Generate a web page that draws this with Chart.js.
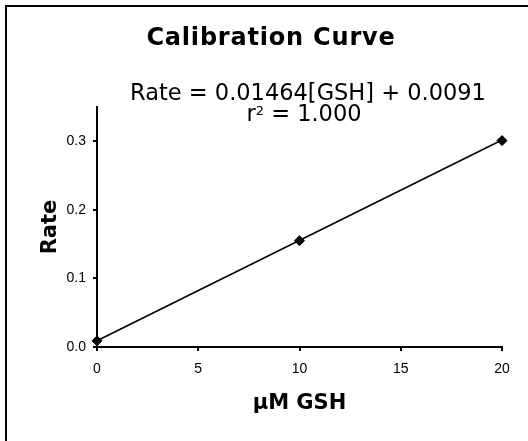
<!DOCTYPE html>
<html>
<head>
<meta charset="utf-8">
<script src="https://cdn.jsdelivr.net/npm/chart.js@4/dist/chart.umd.min.js"></script>
<style>
  html, body { margin: 0; padding: 0; background: #fff; }
  canvas { display: block; }
</style>
</head>
<body>
<canvas id="chart" width="528" height="441"></canvas>
<script>
// measured points
const gshConc = [0, 10, 20]
const rates = [0.009, 0.155, 0.301]

// fitted line endpoints
const fitConc = [0, 20]
const fitRates = [0.0091, 0.3019]

const xTicks = [0, 5, 10, 15, 20]
const yTicks = [0, 0.1, 0.2, 0.3]

const slope = "0.01464"
const intercept = "0.0091"
const rSquared = "1.000"

// Title, fit equation and frame are drawn here
const annotationPlugin = {
  id: "calibrationText",
  afterDraw: (chart) => {
    const ctx = chart.ctx
    ctx.save()

    // frame (only top and left edges fall inside the picture)
    ctx.strokeStyle = "#000"
    ctx.lineWidth = 2
    ctx.beginPath()
    ctx.moveTo(6, chart.height)
    ctx.lineTo(6, 6)
    ctx.lineTo(chart.width, 6)
    ctx.stroke()

    ctx.fillStyle = "#000"
    ctx.textBaseline = "alphabetic"
    ctx.textAlign = "center"
    ctx.font = "bold 24px 'DejaVu Sans'"
    ctx.letterSpacing = "0.8px"
    ctx.fillText("Calibration Curve", 271, 45)
    ctx.letterSpacing = "0px"

    ctx.font = "22.5px 'DejaVu Sans'"
    ctx.fillText(`Rate = ${slope}[GSH] + ${intercept}`, 308, 100)

    // r² line, with a small raised 2
    ctx.textAlign = "left"
    const rest = ` = ${rSquared}`
    const rW = ctx.measureText("r").width
    const restW = ctx.measureText(rest).width
    ctx.font = "13px 'DejaVu Sans'"
    const supW = ctx.measureText("2").width
    let x = 304 - (rW + supW + restW) / 2
    ctx.font = "22.5px 'DejaVu Sans'"
    ctx.fillText("r", x, 121)
    x += rW
    ctx.font = "13px 'DejaVu Sans'"
    ctx.fillText("2", x, 115)
    x += supW
    ctx.font = "22.5px 'DejaVu Sans'"
    ctx.fillText(rest, x, 121)

    ctx.restore()
  },
}

const tickFont = { family: "'Liberation Sans', Arial, sans-serif", size: 14 }
const titleFont = { family: "'DejaVu Sans'", size: 21, weight: "bold" }

new Chart(document.getElementById("chart"), {
  type: "scatter",
  data: {
    datasets: [
      {
        label: "Fit",
        data: fitConc.map((x, i) => ({ x, y: fitRates[i] })),
        showLine: true,
        borderColor: "#000",
        borderWidth: 1.5,
        pointRadius: 0,
        clip: false,
        order: 2,
      },
      {
        label: "Rate",
        data: gshConc.map((x, i) => ({ x, y: rates[i] })),
        showLine: false,
        pointStyle: "rectRot",
        pointRadius: 5,
        pointBackgroundColor: "#000",
        pointBorderColor: "#000",
        pointBorderWidth: 1,
        clip: false,
        order: 1,
      },
    ],
  },
  options: {
    responsive: false,
    animation: false,
    devicePixelRatio: 1,
    layout: { padding: { left: 0, top: 107, right: 26, bottom: 24 } },
    plugins: {
      legend: { display: false },
      tooltip: { enabled: false },
      title: { display: false },
    },
    scales: {
      x: {
        type: "linear",
        min: 0,
        max: 20,
        afterFit: (scale) => { scale.height = 70 },
        afterBuildTicks: (scale) => { scale.ticks = xTicks.map((v) => ({ value: v })) },
        ticks: { font: tickFont, color: "#000", padding: 10, maxRotation: 0, callback: (v) => String(v) },
        grid: { display: true, drawOnChartArea: false, drawTicks: true, tickLength: 4, color: "#000", lineWidth: 2 },
        border: { display: true, color: "#000", width: 2 },
        title: { display: true, text: "μM GSH", font: titleFont, color: "#000", padding: { top: 0, bottom: 1 } },
      },
      y: {
        type: "linear",
        min: 0,
        max: 0.35,
        afterFit: (scale) => { scale.width = 97 },
        afterBuildTicks: (scale) => { scale.ticks = yTicks.map((v) => ({ value: v })) },
        ticks: { font: tickFont, color: "#000", padding: 7, callback: (v) => v.toFixed(1) },
        grid: { display: true, drawOnChartArea: false, drawTicks: true, tickLength: 4, color: "#000", lineWidth: 2 },
        border: { display: true, color: "#000", width: 2 },
        title: { display: true, text: "Rate", font: titleFont, color: "#000", padding: { top: 38, bottom: 0 } },
      },
    },
  },
  plugins: [annotationPlugin],
})
</script>
</body>
</html>
